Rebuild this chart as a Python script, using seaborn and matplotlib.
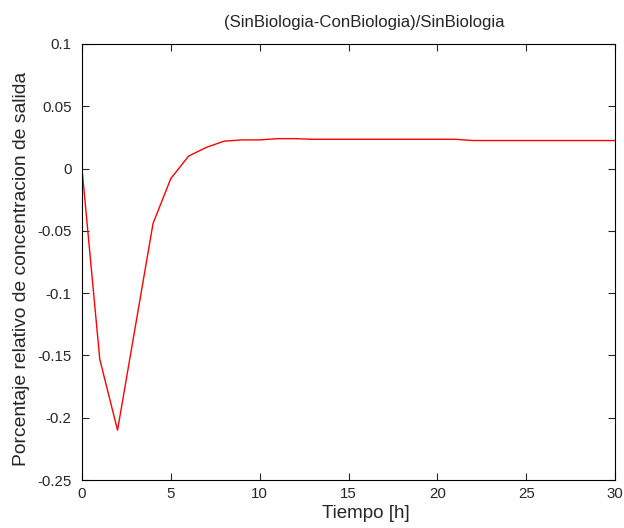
import matplotlib
matplotlib.use("Agg")
import matplotlib.pyplot as plt
import seaborn as sns
import pandas as pd
from matplotlib.ticker import FuncFormatter

# Datos
horas = list(range(0, 31))
porcentaje = [0.0, -0.153, -0.21, -0.127, -0.044, -0.008, 0.010, 0.017,
              0.022, 0.023, 0.023, 0.024, 0.024, 0.0235, 0.0235, 0.0235,
              0.0235, 0.0235, 0.0235, 0.0235, 0.0235, 0.0235, 0.0225,
              0.0225, 0.0225, 0.0225, 0.0225, 0.0225, 0.0225, 0.0225, 0.0225]
xticks = [0, 5, 10, 15, 20, 25, 30]
yticks = [-0.25, -0.2, -0.15, -0.1, -0.05, 0, 0.05, 0.1]

sns.set_style("ticks")
plt.rcParams["font.family"] = ["Liberation Sans", "DejaVu Sans"]

df = pd.DataFrame({"t": horas, "p": porcentaje})

fig = plt.figure(figsize=(6.24, 5.28), dpi=100)
ax = fig.add_axes([0.1314, 0.0909, 0.8542, 0.8258])
sns.lineplot(data=df, x="t", y="p", color="red", linewidth=1.0, ax=ax)

ax.set_xlim(0, 30)
ax.set_ylim(-0.25, 0.1)
ax.set_xticks(xticks)
ax.set_yticks(yticks)
ax.yaxis.set_major_formatter(FuncFormatter(lambda v, p: f"{v:g}"))
ax.tick_params(direction="in", top=True, right=True, labelsize=10.8, length=5, width=0.8)
ax.tick_params(axis="x", pad=5)
ax.tick_params(axis="y", pad=7.5)
for s in ax.spines.values():
    s.set_linewidth(0.8)
    s.set_color("black")

ax.set_title("(SinBiologia-ConBiologia)/SinBiologia", fontsize=12.1, pad=12, x=0.53)
ax.set_xlabel("Tiempo [h]", fontsize=13.5)
ax.set_ylabel("Porcentaje relativo de concentracion de salida", fontsize=13.9)
ax.xaxis.set_label_coords(0.533, -0.058)
ax.yaxis.set_label_coords(-0.098, 0.485)

fig.savefig("out.png", dpi=100)
